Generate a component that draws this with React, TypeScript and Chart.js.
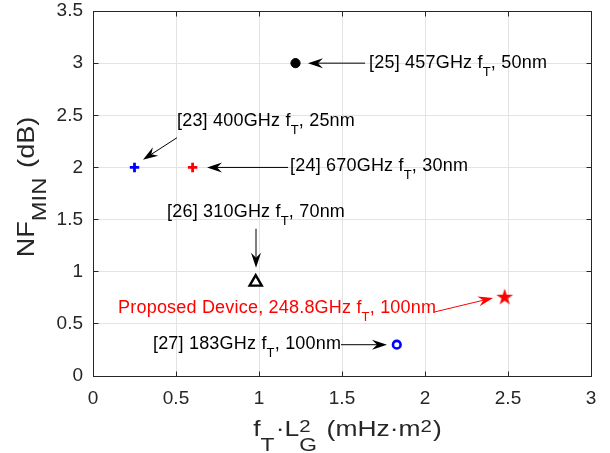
import React, { useEffect, useRef } from 'react';
import { Chart, registerables } from 'chart.js';

Chart.register(...registerables);

const FONT = '"Liberation Sans", Arial, Helvetica, sans-serif';

// ---- data ----
const deviceRefs = ['[25]', '[23]', '[24]', '[26]', 'Proposed Device,', '[27]'];
const ftLg2Values = [1.22, 0.25, 0.6, 0.98, 2.48, 1.83];
const nfMinValues = [3.0, 2.0, 2.0, 0.9, 0.76, 0.3];
const ftGHzValues = ['457', '400', '670', '310', '248.8', '183'];
const gateNmValues = ['50', '25', '30', '70', '100', '100'];

const xTickValues = [0, 0.5, 1, 1.5, 2, 2.5, 3];
const yTickValues = [0, 0.5, 1, 1.5, 2, 2.5, 3, 3.5];

// annotation placement (data units): text left/baseline, arrow start -> tip
const labelTextX = [1.663, 0.506, 1.187, 0.446, 0.151, 0.361];
const labelTextY = [2.958, 2.401, 1.968, 1.527, 0.605, 0.259];
const arrowFromX = [1.639, 0.506, 1.175, 0.982, 2.06, 1.494];
const arrowFromY = [3.0, 2.285, 2.0, 1.412, 0.615, 0.3];
const arrowToX = [1.295, 0.301, 0.687, 0.982, 2.41, 1.771];
const arrowToY = [3.0, 2.074, 2.0, 1.037, 0.749, 0.3];

type Seg = { t: string; size: number; dy?: number; stack?: boolean; gap?: number };

function makeStar(color: string) {
  const c = document.createElement('canvas');
  c.width = 20;
  c.height = 20;
  const g = c.getContext('2d')!;
  const R = 8.8;
  const r = R * 0.382;
  g.beginPath();
  for (let i = 0; i < 10; i++) {
    const rad = i % 2 === 0 ? R : r;
    const a = -Math.PI / 2 + (i * Math.PI) / 5;
    const px = 10 + rad * Math.cos(a);
    const py = 10.6 + rad * Math.sin(a);
    if (i === 0) g.moveTo(px, py);
    else g.lineTo(px, py);
  }
  g.closePath();
  g.fillStyle = color;
  g.fill();
  return c;
}

function segsWidth(ctx: CanvasRenderingContext2D, segs: Seg[]) {
  let w = 0;
  for (const s of segs) {
    ctx.font = `${s.size}px ${FONT}`;
    if (!s.stack) w += ctx.measureText(s.t).width + (s.gap || 0);
  }
  return w;
}

function drawSegs(
  ctx: CanvasRenderingContext2D,
  segs: Seg[],
  x: number,
  y: number,
  color: string,
  sx = 1,
  ls = 0,
  rotate = 0
) {
  ctx.save();
  ctx.translate(x, y);
  if (rotate) ctx.rotate(rotate);
  ctx.scale(sx, 1);
  ctx.fillStyle = color;
  ctx.textAlign = 'left';
  ctx.textBaseline = 'alphabetic';
  (ctx as any).letterSpacing = `${ls}px`;
  let cx = 0;
  for (const s of segs) {
    ctx.font = `${s.size}px ${FONT}`;
    ctx.fillText(s.t, cx, s.dy || 0);
    if (!s.stack) cx += ctx.measureText(s.t).width + (s.gap || 0);
  }
  ctx.restore();
}

function drawArrow(ctx: CanvasRenderingContext2D, x1: number, y1: number, x2: number, y2: number, color: string) {
  const ang = Math.atan2(y2 - y1, x2 - x1);
  const c = Math.cos(ang);
  const s = Math.sin(ang);
  const L = 15;
  const W = 5;
  const N = 10;
  ctx.save();
  ctx.strokeStyle = color;
  ctx.fillStyle = color;
  ctx.lineWidth = 1;
  ctx.beginPath();
  ctx.moveTo(x1, y1);
  ctx.lineTo(x2 - N * c, y2 - N * s);
  ctx.stroke();
  ctx.beginPath();
  ctx.moveTo(x2, y2);
  ctx.lineTo(x2 - L * c - W * s, y2 - L * s + W * c);
  ctx.lineTo(x2 - N * c, y2 - N * s);
  ctx.lineTo(x2 - L * c + W * s, y2 - L * s - W * c);
  ctx.closePath();
  ctx.fill();
  ctx.restore();
}

function labelSegs(i: number): Seg[] {
  return [
    { t: `${deviceRefs[i]} ${ftGHzValues[i]}GHz f`, size: 18 },
    { t: 'T', size: 13, dy: 8.5 },
    { t: `, ${gateNmValues[i]}nm`, size: 18 },
  ];
}

const labelColors = ['#000000', '#000000', '#000000', '#000000', '#ff0000', '#000000'];

const xTitle: Seg[] = [
  { t: 'f', size: 22 },
  { t: 'T', size: 19, dy: 15, gap: 1 },
  { t: '·L', size: 22 },
  { t: '2', size: 17, dy: -4, stack: true },
  { t: 'G', size: 19, dy: 15, gap: 2 },
  { t: ' (mHz·m', size: 22 },
  { t: '2', size: 17, dy: -4, gap: 1 },
  { t: ')', size: 22 },
];

const yTitle: Seg[] = [
  { t: 'NF', size: 24 },
  { t: 'MIN', size: 21, dy: 12, gap: 2 },
  { t: ' (dB)', size: 24 },
];

const AXIS = '#262626';

const overlayPlugin = {
  id: 'overlay',
  afterDatasetsDraw(chart: any) {
    const ctx: CanvasRenderingContext2D = chart.ctx;
    const xs = chart.scales.x;
    const ys = chart.scales.y;
    for (let i = 0; i < deviceRefs.length; i++) {
      drawArrow(
        ctx,
        xs.getPixelForValue(arrowFromX[i]),
        ys.getPixelForValue(arrowFromY[i]),
        xs.getPixelForValue(arrowToX[i]),
        ys.getPixelForValue(arrowToY[i]),
        labelColors[i]
      );
      drawSegs(
        ctx,
        labelSegs(i),
        xs.getPixelForValue(labelTextX[i]),
        ys.getPixelForValue(labelTextY[i]),
        labelColors[i],
        1,
        0.2
      );
    }
  },
  afterDraw(chart: any) {
    const ctx: CanvasRenderingContext2D = chart.ctx;
    const { left, right, top, bottom } = chart.chartArea;
    const al = (p: number) => Math.round(p - 0.5) + 0.5;
    const L = al(left);
    const R = al(right);
    const T = al(top);
    const B = al(bottom);
    ctx.save();
    ctx.strokeStyle = AXIS;
    ctx.lineWidth = 1;
    ctx.beginPath();
    ctx.rect(L, T, R - L, B - T);
    ctx.stroke();
    const tl = 5;
    const xs = chart.scales.x;
    const ys = chart.scales.y;
    ctx.beginPath();
    for (const v of xTickValues) {
      const px = al(xs.getPixelForValue(v));
      ctx.moveTo(px, B);
      ctx.lineTo(px, B - tl);
      ctx.moveTo(px, T);
      ctx.lineTo(px, T + tl);
    }
    for (const v of yTickValues) {
      const py = al(ys.getPixelForValue(v));
      ctx.moveTo(L, py);
      ctx.lineTo(L + tl, py);
      ctx.moveTo(R, py);
      ctx.lineTo(R - tl, py);
    }
    ctx.stroke();
    ctx.restore();

    // x title
    const sxX = 1.2;
    const wX = segsWidth(ctx, xTitle) * sxX;
    drawSegs(ctx, xTitle, 347.5 - wX / 2, 436, AXIS, sxX, 0);
    // y title
    const sxY = 1.13;
    const wY = segsWidth(ctx, yTitle) * sxY;
    drawSegs(ctx, yTitle, 34, 187 + wY / 2, AXIS, sxY, 0, -Math.PI / 2);
  },
};

export default function App() {
  const canvasRef = useRef<HTMLCanvasElement | null>(null);

  useEffect(() => {
    document.body.style.margin = '0';
    const canvas = canvasRef.current;
    if (!canvas) return;
    const star = makeStar('#ff0000');
    const markerStyles: any[] = [
      { pointStyle: 'circle', pointRadius: 4.6, backgroundColor: '#000000', borderColor: '#000000', pointBorderWidth: 1 },
      { pointStyle: 'cross', pointRadius: 4.7, backgroundColor: '#0000ff', borderColor: '#0000ff', pointBorderWidth: 2.8 },
      { pointStyle: 'cross', pointRadius: 4.7, backgroundColor: '#ff0000', borderColor: '#ff0000', pointBorderWidth: 2.8 },
      { pointStyle: 'triangle', pointRadius: 7, backgroundColor: '#ffffff', borderColor: '#000000', pointBorderWidth: 2.4 },
      { pointStyle: star, pointRadius: 10, backgroundColor: '#ff0000', borderColor: '#ff0000', pointBorderWidth: 0 },
      { pointStyle: 'circle', pointRadius: 3.8, backgroundColor: '#ffffff', borderColor: '#0000ff', pointBorderWidth: 2.6 },
    ];
    const datasets = deviceRefs.map((ref, i) => ({
      label: ref,
      data: [{ x: ftLg2Values[i], y: nfMinValues[i] }],
      showLine: false,
      ...markerStyles[i],
    }));

    const chart = new Chart(canvas, {
      type: 'scatter',
      data: { datasets },
      options: {
        animation: false,
        responsive: false,
        devicePixelRatio: 1,
        events: [],
        layout: { padding: { left: 0, top: 11, right: 19, bottom: 0 } },
        plugins: { legend: { display: false }, tooltip: { enabled: false }, title: { display: false } },
        scales: {
          x: {
            type: 'linear',
            min: 0,
            max: 3,
            afterBuildTicks: (s: any) => {
              s.ticks = xTickValues.map((v) => ({ value: v }));
            },
            afterFit: (s: any) => {
              s.height = 77;
              s.paddingLeft = 0;
              s.paddingRight = 0;
              s.paddingTop = 0;
              s.paddingBottom = 0;
            },
            ticks: {
              autoSkip: false,
              maxRotation: 0,
              padding: 11,
              color: AXIS,
              font: { family: FONT, size: 19 },
              callback: (v: any) => String(v),
            },
            grid: { color: '#e3e3e3', drawTicks: false, lineWidth: 1 },
            border: { display: true, color: AXIS, width: 1 },
          },
          y: {
            type: 'linear',
            min: 0,
            max: 3.5,
            afterBuildTicks: (s: any) => {
              s.ticks = yTickValues.map((v) => ({ value: v }));
            },
            afterFit: (s: any) => {
              s.width = 93;
              s.paddingLeft = 0;
              s.paddingRight = 0;
              s.paddingTop = 0;
              s.paddingBottom = 0;
            },
            ticks: {
              autoSkip: false,
              padding: 10,
              color: AXIS,
              font: { family: FONT, size: 19 },
              callback: (v: any) => String(v),
            },
            grid: { color: '#e3e3e3', drawTicks: false, lineWidth: 1 },
            border: { display: true, color: AXIS, width: 1 },
          },
        },
      },
      plugins: [overlayPlugin],
    });
    return () => chart.destroy();
  }, []);

  return (
    <div style={{ position: 'fixed', left: 0, top: 0, width: 610, height: 453, background: '#ffffff' }}>
      <canvas ref={canvasRef} width={610} height={453} style={{ display: 'block', width: 610, height: 453 }} />
    </div>
  );
}
